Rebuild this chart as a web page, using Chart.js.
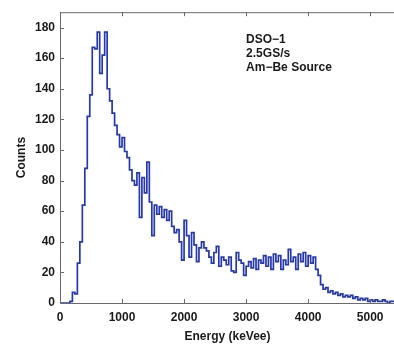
<!DOCTYPE html>
<html>
<head>
<meta charset="utf-8">
<script src="https://cdn.jsdelivr.net/npm/chart.js@4.4.1/dist/chart.umd.min.js"></script>
<style>
  html, body { margin: 0; padding: 0; background: #fff; overflow: hidden; }
  #mycanvas { display: block; }
</style>
</head>
<body>
<canvas id="mycanvas" width="398" height="344"></canvas>
<script>
// histogram, 40 keVee bins starting at 0
var binWidth = 40;
var counts = [
  0, 0, 0, 0, 1, 7, 6, 26, 40, 64,
  88, 122, 136, 167, 166, 177, 150, 162, 177, 140,
  132, 124, 116, 110, 102, 108, 99, 95, 87, 80,
  77, 85, 56, 82, 72, 92, 66, 44, 64, 58,
  63, 56, 61, 54, 60, 50, 46, 48, 40, 28,
  54, 44, 30, 46, 38, 27, 36, 40, 36, 34,
  30, 26, 33, 37, 24, 30, 28, 25, 30, 21,
  20, 33, 28, 26, 18, 24, 27, 23, 29, 22,
  28, 26, 31, 24, 30, 22, 32, 27, 31, 22,
  28, 25, 35, 27, 30, 22, 32, 27, 33, 24,
  31, 26, 30, 22, 18, 12, 9, 10, 7, 8,
  6, 7, 5, 6, 4, 5, 4, 5, 3, 4,
  2, 3, 2, 3, 1, 2, 1, 2, 1, 1,
  2, 1, 0, 1, 1
];
var xTicks = [0, 1000, 2000, 3000, 4000, 5000];
var yTicks = [0, 20, 40, 60, 80, 100, 120, 140, 160, 180];
var notes = ["DSO\u22121", "2.5GS/s", "Am\u2212Be Source"];

var points = [];
for (var i = 0; i < counts.length; i++) {
  points.push({x: i * binWidth, y: counts[i]});
}
points.push({x: counts.length * binWidth, y: counts[counts.length - 1]});

var axisColor = '#6a6a6a';
var fontBold = {family: 'Liberation Sans, Arial, sans-serif', size: 12, weight: 'bold'};

// box on top + inward ticks + text block
var boxPlugin = {
  id: 'box',
  afterDraw: function(chart) {
    var c = chart.ctx;
    var a = chart.chartArea;
    var xs = chart.scales.x, ys = chart.scales.y;
    c.save();
    c.strokeStyle = axisColor;
    c.lineWidth = 1;
    c.beginPath();
    c.moveTo(a.left, a.top + 0.5);
    c.lineTo(a.right, a.top + 0.5);
    for (var i = 0; i < xTicks.length; i++) {
      var px = Math.round(xs.getPixelForValue(xTicks[i])) + 0.5;
      c.moveTo(px, a.bottom); c.lineTo(px, a.bottom - 4);
      c.moveTo(px, a.top); c.lineTo(px, a.top + 4);
    }
    for (var j = 0; j < yTicks.length; j++) {
      var py = Math.round(ys.getPixelForValue(yTicks[j])) + 0.5;
      c.moveTo(a.left, py); c.lineTo(a.left + 4, py);
    }
    c.stroke();

    c.fillStyle = '#1a1a1a';
    c.font = 'bold 12px "Liberation Sans", Arial, sans-serif';
    c.textBaseline = 'alphabetic';
    var tx = xs.getPixelForValue(3000);
    var ty = ys.getPixelForValue(175) + 8;
    for (var k = 0; k < notes.length; k++) {
      c.fillText(notes[k], tx, ty + k * 14);
    }
    c.restore();
  }
};

var ctx = document.getElementById('mycanvas');

var chart = new Chart(ctx, {
  type: 'line',
  data: {
    datasets: [{
      data: points,
      stepped: true,
      borderColor: 'rgb(38, 56, 170)',
      borderWidth: 1.7,
      pointRadius: 0,
      fill: false
    }]
  },
  options: {
    responsive: false,
    animation: false,
    devicePixelRatio: 1,
    layout: {padding: {top: 6, right: 3, left: 0, bottom: 0}},
    plugins: {
      legend: {display: false},
      tooltip: {enabled: false}
    },
    scales: {
      x: {
        type: 'linear',
        min: 0,
        max: 5400,
        afterBuildTicks: function(s) { s.ticks = xTicks.map(function(v) { return {value: v}; }); },
        afterFit: function(s) { s.height = 41; },
        grid: {display: false, drawTicks: false},
        border: {display: true, color: axisColor, width: 1},
        ticks: {
          color: '#1a1a1a', font: fontBold, padding: 7, maxRotation: 0,
          callback: function(v) { return String(v); }
        },
        title: {
          display: true,
          text: 'Energy (keVee)',
          color: '#1a1a1a',
          font: {family: 'Liberation Sans, Arial, sans-serif', size: 12, weight: 'bold'},
          padding: {top: 2, bottom: 0}
        }
      },
      y: {
        min: 0,
        max: 190,
        afterBuildTicks: function(s) { s.ticks = yTicks.map(function(v) { return {value: v}; }); },
        afterFit: function(s) { s.width = 60; },
        grid: {display: false, drawTicks: false},
        border: {display: true, color: axisColor, width: 1},
        ticks: {
          color: '#1a1a1a', font: fontBold, padding: 5,
          callback: function(v) { return String(v); }
        },
        title: {
          display: true,
          text: 'Counts',
          color: '#1a1a1a',
          font: {family: 'Liberation Sans, Arial, sans-serif', size: 12, weight: 'bold'},
          padding: {top: 14, bottom: 0}
        }
      }
    }
  },
  plugins: [boxPlugin]
});
</script>
</body>
</html>
